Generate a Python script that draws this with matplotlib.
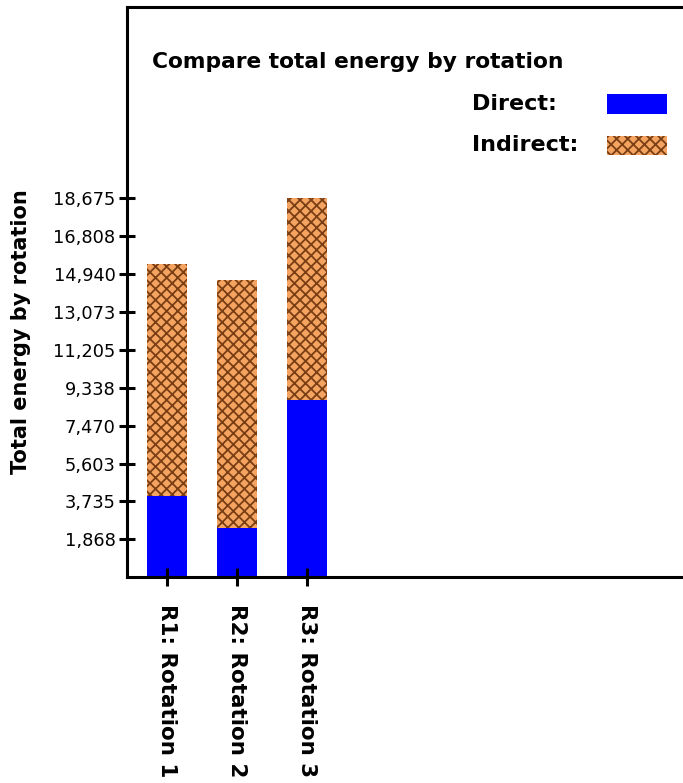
import matplotlib.pyplot as plt
from matplotlib.patches import Rectangle
from matplotlib.ticker import FixedLocator, FuncFormatter

# Energy per rotation, split into direct and indirect parts
rotations = ["R1: Rotation 1", "R2: Rotation 2", "R3: Rotation 3"]
direct = [4000, 2440, 8730]
indirect = [11430, 12205, 9945]

# Axis scale: 10 ticks, each one tenth of the largest total
tick_step = 1867.5
tick_values = [tick_step * k for k in range(1, 11)]

DIRECT_COLOR = "#0000FF"
INDIRECT_COLOR = "#F4A460"
HATCH_COLOR = "#7A3E14"
HATCH = "xxx"
LINE_W = 2.2

plt.rcParams["font.family"] = "DejaVu Sans"
plt.rcParams["hatch.color"] = HATCH_COLOR
plt.rcParams["hatch.linewidth"] = 1.3

W, H = 683, 783
fig = plt.figure(figsize=(W / 100, H / 100), dpi=100)

# plot area in pixels: left spine at x=126.7, bottom at y=577, top at y=7
left_px, bottom_px, top_px = 126.7, 577.2, 7.0
right_px = 720.0
ax = fig.add_axes([left_px / W, 1 - bottom_px / H,
                   (right_px - left_px) / W, (bottom_px - top_px) / H])

px_per_unit = 70.0
px_per_tick = 37.9
xs = list(range(len(rotations)))
bar_w = 40 / px_per_unit

ax.bar(xs, direct, width=bar_w, color=DIRECT_COLOR, edgecolor="none")
ax.bar(xs, indirect, width=bar_w, bottom=direct, color=INDIRECT_COLOR,
       edgecolor=HATCH_COLOR, linewidth=0, hatch=HATCH)

x0 = -40 / px_per_unit
ax.set_xlim(x0, x0 + (right_px - left_px) / px_per_unit)
ax.set_ylim(0, (bottom_px - top_px) / px_per_tick * tick_step)

ax.yaxis.set_major_locator(FixedLocator(tick_values))
ax.yaxis.set_major_formatter(FuncFormatter(lambda v, p: f"{int(v + 0.5):,}"))
ax.set_xticks(xs)
ax.set_xticklabels(rotations, rotation=270, fontsize=15.5, fontweight="bold",
                   va="top", ha="center")

ax.tick_params(axis="y", direction="inout", length=12, width=LINE_W,
               labelsize=12.8, pad=2, colors="black")
ax.tick_params(axis="x", direction="inout", length=13, width=LINE_W, pad=13)

for side in ("left", "bottom", "top", "right"):
    ax.spines[side].set_linewidth(LINE_W)
    ax.spines[side].set_color("black")

fig.text(21 / W, 1 - 332 / H, "Total energy by rotation", rotation=90,
         ha="center", va="center", fontsize=15, fontweight="bold")

fig.text(152 / W, 1 - 62 / H, "Compare total energy by rotation",
         ha="left", va="center", fontsize=15.7, fontweight="bold")

# legend drawn as labels with swatches on the right
legend_rows = [("Direct:", 104, dict(facecolor=DIRECT_COLOR)),
               ("Indirect:", 145, dict(facecolor=INDIRECT_COLOR, hatch=HATCH,
                                        edgecolor=HATCH_COLOR, linewidth=0))]
for label, yc, style in legend_rows:
    fig.text(472 / W, 1 - yc / H, label, ha="left", va="center",
             fontsize=16, fontweight="bold")
    fig.add_artist(Rectangle((607 / W, 1 - (yc + 9.5) / H), 60 / W, 19 / H,
                             transform=fig.transFigure, **style))

fig.savefig("out.png", dpi=100)
